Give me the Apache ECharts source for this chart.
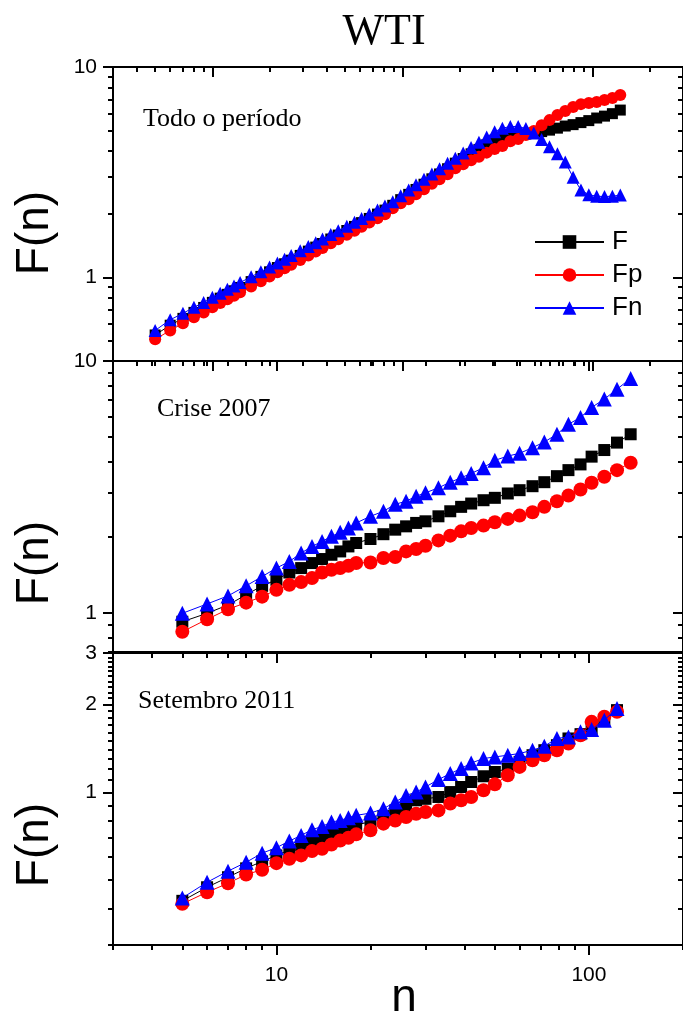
<!DOCTYPE html>
<html><head><meta charset="utf-8">
<script src="https://cdn.jsdelivr.net/npm/echarts@6/dist/echarts.min.js"></script>
<style>html,body{margin:0;padding:0;background:#fff}#c{width:683px;height:1019px}</style>
</head><body><div id="c"></div>
<script>
// ---------- data ----------
const seriesNames = ['F', 'Fp', 'Fn'];
const panelTitles = ['Todo o período', 'Crise 2007', 'Setembro 2011'];

// Panel 1: Todo o período
const n1 = [5,6,7,8,9,10,11,12,13,14,16,18,20,22,24,26,29,32,35,38,42,46,51,56,61,67,74,81,89,98,108,118,130,143,157,173,190,209,230,253,278,306,336,370,407,447,492,541,595,655,720,792,871,958,1054,1159,1275,1403];
const F1  = [.532,.592,.638,.681,.719,.760,.796,.830,.863,.895,.954,1.010,1.062,1.113,1.160,1.206,1.271,1.332,1.392,1.448,1.521,1.588,1.670,1.746,1.820,1.905,1.998,2.087,2.20,2.34,2.48,2.617,2.771,2.940,3.101,3.283,3.490,3.671,3.865,4.056,4.27,4.46,4.60,4.68,4.74,4.80,4.86,4.93,5.01,5.12,5.24,5.32,5.44,5.56,5.72,5.84,6.00,6.24];
const Fp1 = [.507,.559,.604,.645,.681,.720,.754,.786,.818,.848,.905,.959,1.009,1.057,1.103,1.147,1.209,1.268,1.326,1.380,1.450,1.515,1.594,1.667,1.738,1.820,1.910,1.995,2.131,2.251,2.352,2.485,2.624,2.788,2.929,3.094,3.304,3.452,3.607,3.748,3.916,4.07,4.206,4.44,4.54,4.75,4.96,5.29,5.59,5.91,6.17,6.45,6.66,6.74,6.81,6.96,7.12,7.36];
const Fn1 = [.559,.628,.674,.720,.760,.803,.840,.877,.910,.944,1.006,1.063,1.118,1.171,1.219,1.268,1.336,1.400,1.461,1.520,1.596,1.665,1.750,1.829,1.905,1.993,2.089,2.183,2.29,2.44,2.60,2.757,2.926,3.100,3.283,3.483,3.687,3.903,4.141,4.390,4.647,4.925,5.12,5.21,5.21,5.10,4.85,4.52,4.18,3.87,3.53,2.99,2.60,2.47,2.43,2.42,2.43,2.46];

// Panel 2: Crise 2007
const n2 = [5,6,7,8,9,10,11,12,13,14,15,16,17,18,20,22,24,26,28,30,33,36,39,42,46,50,55,60,66,72,79,86,94,102,112,123,136];
const F2  = [.923,.997,1.076,1.180,1.281,1.354,1.447,1.507,1.578,1.637,1.702,1.755,1.837,1.895,1.966,2.054,2.141,2.207,2.277,2.311,2.419,2.533,2.637,2.718,2.802,2.864,2.980,3.071,3.185,3.304,3.491,3.689,3.887,4.173,4.432,4.744,5.12];
const Fp2 = [.842,.944,1.034,1.099,1.161,1.235,1.293,1.326,1.375,1.447,1.483,1.507,1.539,1.578,1.587,1.652,1.667,1.755,1.794,1.849,1.941,2.027,2.108,2.175,2.222,2.290,2.362,2.435,2.510,2.637,2.776,2.925,3.090,3.286,3.472,3.689,3.948];
const Fn2 = [.997,1.086,1.169,1.281,1.395,1.507,1.601,1.729,1.837,1.923,2.014,2.089,2.175,2.277,2.419,2.533,2.70,2.776,2.906,2.998,3.139,3.304,3.441,3.579,3.772,4.033,4.195,4.300,4.531,4.770,5.120,5.61,5.97,6.54,7.06,7.73,8.53];

// Panel 3: Setembro 2011
const n3 = [5,6,7,8,9,10,11,12,13,14,15,16,17,18,20,22,24,26,28,30,33,36,39,42,46,50,55,60,66,72,79,86,94,102,112,123];
const F3  = [.425,.473,.512,.549,.580,.608,.635,.658,.684,.700,.724,.741,.756,.773,.793,.829,.867,.896,.939,.950,.964,1.002,1.043,1.085,1.135,1.174,1.206,1.271,1.340,1.394,1.450,1.529,1.582,1.654,1.767,1.912];
const Fp3 = [.415,.455,.488,.523,.543,.572,.592,.608,.629,.641,.663,.684,.699,.718,.741,.781,.801,.823,.845,.856,.867,.915,.939,.964,1.016,1.065,1.144,1.222,1.288,1.340,1.394,1.470,1.569,1.743,1.814,1.887];
const Fn3 = [.435,.492,.537,.576,.619,.646,.681,.712,.745,.764,.791,.801,.819,.834,.849,.879,.926,.976,1.002,1.043,1.106,1.159,1.206,1.260,1.305,1.322,1.340,1.358,1.394,1.439,1.529,1.548,1.611,1.641,1.767,1.938];

// axis ranges and tick labels
const xRange1 = [3, 3000];
const xRange23 = [3, 200];
const yRange1 = [0.4, 10];
const yRange2 = [0.7, 10];
const yRange3 = [0.3, 3];
const xTickLabels = [10, 100];
const yTickLabels1 = [1, 10];
const yTickLabels2 = [1, 10];
const yTickLabels3 = [1, 2, 3];

// ---------- build ----------
const L = Math.log10;
function logTicks(r, mults) {
  const out = [];
  for (let e = -2; e <= 4; e++) for (const m of mults) {
    const v = +(m * Math.pow(10, e)).toPrecision(6);
    if (v >= r[0] - 1e-9 && v <= r[1] + 1e-9) out.push(v);
  }
  return out;
}
const MAJ = [1], MIN = [2,3,4,5,6,7,8,9];
const p3Major = [1, 2, 3];
const p3Minor = [0.3,0.4,0.5,0.6,0.7,0.8,0.9,1.1,1.2,1.3,1.4,1.5,1.6,1.7,1.8,1.9,2.1,2.2,2.3,2.4,2.5,2.6,2.7,2.8,2.9];

const panels = [
  {top: 67, height: 294, xr: xRange1, yr: yRange1, yLab: yTickLabels1, xLab: null, sym: [11, 12, 13],
   data: [F1, Fp1, Fn1], n: n1, yMaj: logTicks(yRange1, MAJ), yMin: logTicks(yRange1, MIN)},
  {top: 361, height: 291, xr: xRange23, yr: yRange2, yLab: yTickLabels2, xLab: null, sym: [12, 14, 15],
   data: [F2, Fp2, Fn2], n: n2, yMaj: logTicks(yRange2, MAJ), yMin: logTicks(yRange2, MIN)},
  {top: 653, height: 292, xr: xRange23, yr: yRange3, yLab: yTickLabels3, xLab: xTickLabels, sym: [12, 14, 15],
   data: [F3, Fp3, Fn3], n: n3, yMaj: p3Major, yMin: p3Minor}
];

const fmt = v => String(Math.round(Math.pow(10, v) * 10) / 10);
const lineSt = {color: '#000', width: 2};
const labelFont = {fontSize: 21, color: '#000', fontFamily: 'Liberation Sans, Arial, sans-serif'};

const grids = [], xAxes = [], yAxes = [], series = [];
const colors = ['#000000', '#ff0000', '#0000ff'];
const symbols = ['rect', 'circle', 'triangle'];

panels.forEach((p, gi) => {
  grids.push({left: 113, right: -6, top: p.top, height: p.height, containLabel: false});
  const xMaj = logTicks(p.xr, MAJ), xMin = logTicks(p.xr, MIN);
  const mkX = (pos, ticks, len, lab) => ({
    type: 'value', gridIndex: gi, position: pos, min: L(p.xr[0]), max: L(p.xr[1]),
    axisLine: {show: true, onZero: false, lineStyle: lineSt},
    axisTick: {show: true, inside: pos === 'top', length: len, customValues: ticks.map(L), lineStyle: lineSt},
    axisLabel: lab ? Object.assign({show: true, customValues: lab.map(L), formatter: fmt, margin: 20}, labelFont) : {show: false},
    splitLine: {show: false}, minorTick: {show: false}
  });
  const mkY = (pos, ticks, len, lab) => ({
    type: 'value', gridIndex: gi, position: pos, min: L(p.yr[0]), max: L(p.yr[1]),
    axisLine: {show: true, onZero: false, lineStyle: lineSt},
    axisTick: {show: true, inside: pos === 'right', length: len, customValues: ticks.map(L), lineStyle: lineSt},
    axisLabel: lab ? Object.assign({show: true, customValues: lab.map(L), formatter: fmt, margin: 16}, labelFont) : {show: false},
    splitLine: {show: false}, minorTick: {show: false}
  });
  xAxes.push(mkX('bottom', xMaj, 10, p.xLab), mkX('bottom', xMin, 5, null), mkX('top', xMaj, 10, null), mkX('top', xMin, 5, null));
  yAxes.push(mkY('left', p.yMaj, 10, p.yLab), mkY('left', p.yMin, 5, null), mkY('right', p.yMaj, 10, null), mkY('right', p.yMin, 5, null));
  p.data.forEach((vals, si) => {
    series.push({
      type: 'line', name: seriesNames[si], xAxisIndex: gi * 4, yAxisIndex: gi * 4,
      data: p.n.map((x, i) => [L(x), L(vals[i])]),
      symbol: symbols[si], symbolSize: p.sym[si], showSymbol: true, showAllSymbol: true,
      lineStyle: {color: colors[si], width: 1}, itemStyle: {color: colors[si]},
      emphasis: {disabled: true}, silent: true, z: 2 + si, animation: false
    });
  });
});

const serif = 'Liberation Serif, Times New Roman, serif';
const sans = 'Liberation Sans, Arial, sans-serif';
const txt = (x, y, text, size, font, align) => ({
  type: 'text', x: x, y: y, silent: true,
  style: {text: text, fontSize: size, fontFamily: font, fill: '#000', align: align || 'left', verticalAlign: 'middle'}
});
const vtxt = (x, y, text) => ({
  type: 'text', x: x, y: y, rotation: Math.PI / 2, silent: true,
  style: {text: text, fontSize: 46, fontFamily: sans, fill: '#000', align: 'center', verticalAlign: 'middle'}
});

const graphic = [
  txt(384, 32, 'WTI', 44, serif, 'center'),
  txt(143, 119, panelTitles[0], 26, serif),
  txt(157, 409, panelTitles[1], 26, serif),
  txt(138, 701, panelTitles[2], 26, serif),
  vtxt(35, 233, 'F(n)'),
  vtxt(35, 563, 'F(n)'),
  vtxt(35, 845, 'F(n)'),
  txt(404, 998, 'n', 46, sans, 'center')
];

const chart = echarts.init(document.getElementById('c'), null, {renderer: 'canvas'});
chart.setOption({
  animation: false,
  backgroundColor: '#fff',
  grid: grids, xAxis: xAxes, yAxis: yAxes, series: series,
  legend: {
    show: true, data: seriesNames, orient: 'vertical', left: 529, top: 224,
    itemWidth: 69, itemHeight: 17, itemGap: 7, selectedMode: false,
    textStyle: {fontSize: 26, fontFamily: sans, color: '#000', lineHeight: 26, padding: [0, 0, 0, 3]}
  },
  graphic: graphic
});
</script></body></html>
